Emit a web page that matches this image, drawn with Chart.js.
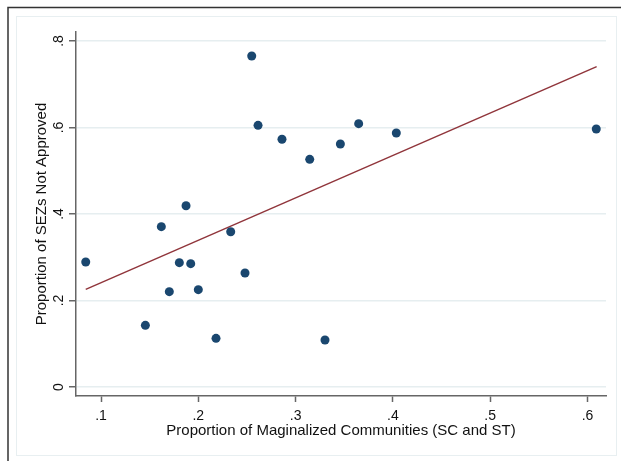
<!DOCTYPE html>
<html>
<head>
<meta charset="utf-8">
<script src="https://cdn.jsdelivr.net/npm/chart.js@4/dist/chart.umd.min.js"></script>
<style>
  html, body { margin: 0; padding: 0; background: #fff; }
  #wrap { width: 621px; height: 461px; }
</style>
</head>
<body>
<div id="wrap"><canvas id="c" width="621" height="461"></canvas></div>
<script>
// share of marginalized communities (x) vs share of SEZs not approved (y)
const margShare = [0.0843, 0.1456, 0.1620, 0.1702, 0.1805, 0.1874, 0.1922, 0.2000, 0.2182, 0.2333,
                   0.2480, 0.2549, 0.2614, 0.2860, 0.3145, 0.3302, 0.3460, 0.3648, 0.4035, 0.6090];
const notApproved = [0.289, 0.1426, 0.3707, 0.2204, 0.2875, 0.4192, 0.2852, 0.225, 0.1125, 0.359,
                     0.2636, 0.7653, 0.605, 0.5727, 0.5264, 0.1087, 0.5618, 0.6088, 0.5873, 0.5965];
// fitted line end points
const fitX = [0.0843, 0.6094];
const fitY = [0.2258, 0.7406];

const xTicks = [0.1, 0.2, 0.3, 0.4, 0.5, 0.6];
const yTicks = [0, 0.2, 0.4, 0.6, 0.8];

const FONT = "'Liberation Sans', Arial, sans-serif";
const textCol = '#111';
const axisCol = '#666';
const gridCol = '#e6eef0';

function stataLabel(v){
    if (Math.abs(v) < 1e-9) return '0';
    return String(+v.toFixed(2)).replace(/^0\./, '.');
}

const points = margShare.map((x, i) => ({x: x, y: notApproved[i]}));
const fitLine = fitX.map((x, i) => ({x: x, y: fitY[i]}));

// white page, outer dark frame, inner light frame
const framePlugin = {
    id: 'frame',
    beforeDraw(chart){
        const ctx = chart.ctx;
        ctx.save();
        ctx.fillStyle = '#fff';
        ctx.fillRect(0, 0, chart.width, chart.height);
        ctx.strokeStyle = '#e8eff1';
        ctx.lineWidth = 1;
        ctx.strokeRect(16.5, 16.5, 600, 439);
        ctx.strokeStyle = '#333';
        ctx.lineWidth = 1.5;
        ctx.beginPath();
        ctx.moveTo(8, 470);
        ctx.lineTo(8, 7.5);
        ctx.lineTo(630, 7.5);
        ctx.stroke();
        ctx.restore();
    }
};

// y tick labels are drawn rotated, like Stata does
const yLabelPlugin = {
    id: 'yLabels',
    afterDraw(chart){
        const ys = chart.scales.y;
        const ctx = chart.ctx;
        ctx.save();
        ctx.fillStyle = textCol;
        ctx.font = '14px ' + FONT;
        ctx.textAlign = 'center';
        ctx.textBaseline = 'middle';
        ys.ticks.forEach(t => {
            const py = ys.getPixelForValue(t.value);
            ctx.save();
            ctx.translate(59, py);
            ctx.rotate(-Math.PI / 2);
            ctx.fillText(stataLabel(t.value), 0, 0);
            ctx.restore();
        });
        ctx.restore();
    }
};

new Chart(document.getElementById('c'), {
    type: 'scatter',
    data: {
        datasets: [
            {
                type: 'scatter',
                data: points,
                backgroundColor: '#1a476f',
                borderWidth: 0,
                pointRadius: 4.5,
                order: 1
            },
            {
                type: 'line',
                data: fitLine,
                borderColor: '#90353b',
                borderWidth: 1.5,
                pointRadius: 0,
                fill: false,
                order: 2
            }
        ]
    },
    options: {
        responsive: false,
        animation: false,
        devicePixelRatio: 1,
        layout: {padding: {left: 0, top: 32, right: 15, bottom: 0}},
        plugins: {legend: {display: false}, tooltip: {enabled: false}},
        scales: {
            x: {
                type: 'linear',
                min: 0.0743,
                max: 0.619,
                afterBuildTicks: s => { s.ticks = xTicks.map(v => ({value: v})); },
                afterFit: s => { s.height = 65; },
                border: {color: axisCol, width: 1.5},
                grid: {drawOnChartArea: false, drawTicks: true, tickLength: 6, tickColor: axisCol, tickWidth: 1.5},
                ticks: {
                    padding: 6,
                    color: textCol,
                    font: {family: FONT, size: 14},
                    maxRotation: 0,
                    callback: v => stataLabel(v)
                },
                title: {
                    display: true,
                    text: 'Proportion of Maginalized Communities (SC and ST)',
                    color: textCol,
                    font: {family: FONT, size: 15},
                    padding: {top: 0, bottom: 21}
                }
            },
            y: {
                type: 'linear',
                min: -0.0208,
                max: 0.8208,
                afterBuildTicks: s => { s.ticks = yTicks.map(v => ({value: v})); },
                afterFit: s => { s.width = 76; },
                border: {color: axisCol, width: 1.5},
                grid: {color: gridCol, lineWidth: 1.5, drawTicks: true, tickLength: 7, tickColor: axisCol, tickWidth: 1.5},
                ticks: {display: false},
                title: {
                    display: true,
                    text: 'Proportion of SEZs Not Approved',
                    color: textCol,
                    font: {family: FONT, size: 15},
                    padding: {top: 33, bottom: 0}
                }
            }
        }
    },
    plugins: [framePlugin, yLabelPlugin]
});
</script>
</body>
</html>
